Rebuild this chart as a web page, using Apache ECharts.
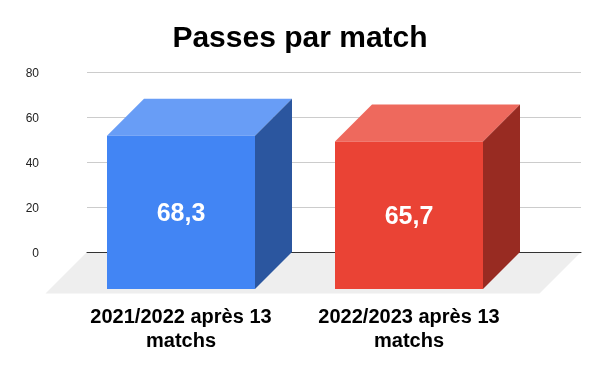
<!DOCTYPE html>
<html>
<head>
<meta charset="utf-8">
<style>
  html, body { margin: 0; padding: 0; background: #fff; }
  #chart { width: 600px; height: 371px; }
</style>
<script src="https://cdn.jsdelivr.net/npm/echarts@6/dist/echarts.min.js"></script>
</head>
<body>
<div id="chart"></div>
<script>
var categories = ['2021/2022 après 13 matchs', '2022/2023 après 13 matchs'];
var passes = [68.3, 65.7];
var frontColors = ['#4285f4', '#ea4335'];
var topColors = ['#689df6', '#ee695d'];
var sideColors = ['#2b569f', '#982b22'];

var font = '"Liberation Sans", Arial, sans-serif';
var barWidth = 148;
var barDepth = 37;
var floorDepth = 41.5;

function poly(points, color) {
  return { type: 'polygon', shape: { points: points }, style: { fill: color } };
}

// bars are placed on the front plane in x, but their height is read on the back wall
function renderBar(params, api) {
  var i = api.value(0);
  var top = api.coord([i, api.value(1)]);
  var base = api.coord([i, 0]);
  var l = top[0] - barWidth / 2;
  var r = top[0] + barWidth / 2;
  var d = barDepth;
  return {
    type: 'group',
    children: [
      poly([[l, top[1] + d], [r, top[1] + d], [r + d, top[1]], [l + d, top[1]]], topColors[i]),
      poly([[r, top[1] + d], [r + d, top[1]], [r + d, base[1]], [r, base[1] + d]], sideColors[i]),
      poly([[l, top[1] + d], [r, top[1] + d], [r, base[1] + d], [l, base[1] + d]], frontColors[i]),
      {
        type: 'text',
        style: {
          x: top[0],
          y: (top[1] + base[1]) / 2 + d + 2,
          text: String(api.value(1)).replace('.', ','),
          align: 'center',
          verticalAlign: 'middle',
          fill: '#fff',
          font: 'bold 25px ' + font
        }
      }
    ]
  };
}

function renderFloor(params, api) {
  var a = api.coord([0, 0]);
  var b = api.coord([1, 0]);
  return poly([
    [a[0], a[1]],
    [b[0], b[1]],
    [b[0] - floorDepth, b[1] + floorDepth],
    [a[0] - floorDepth, a[1] + floorDepth]
  ], '#eeeeee');
}

var chart = echarts.init(document.getElementById('chart'));

chart.setOption({
  animation: false,
  backgroundColor: '#fff',
  title: {
    text: 'Passes par match',
    left: 295,
    top: 19,
    textAlign: 'center',
    textStyle: { fontFamily: font, fontWeight: 'bold', fontSize: 30, color: '#000' }
  },
  grid: [
    { left: 87, width: 494, top: 72, height: 180 },
    { left: 67, width: 456, top: 72.5, height: 179.5 }
  ],
  xAxis: [
    {
      gridIndex: 0,
      type: 'value',
      min: 0,
      max: 1,
      z: 1,
      axisLine: { show: true, lineStyle: { color: '#333', width: 1 } },
      axisTick: { show: false },
      axisLabel: { show: false },
      splitLine: { show: false }
    },
    {
      gridIndex: 1,
      type: 'category',
      data: categories,
      axisLine: { show: false },
      axisTick: { show: false },
      axisLabel: {
        interval: 0,
        margin: 53,
        lineHeight: 24,
        fontFamily: font,
        fontWeight: 'bold',
        fontSize: 20,
        color: '#000',
        formatter: function (v) { return v.replace(' matchs', '\nmatchs'); }
      }
    }
  ],
  yAxis: [
    {
      gridIndex: 0,
      type: 'value',
      min: 0,
      max: 80,
      interval: 20,
      axisLine: { show: false },
      axisTick: { show: false },
      axisLabel: { margin: 48, lineHeight: 17, verticalAlign: 'top', padding: [-7, 0, 0, 0], fontFamily: font, fontSize: 12, color: '#222' },
      splitLine: { lineStyle: { color: '#cccccc', width: 1 } }
    },
    {
      gridIndex: 1,
      type: 'value',
      min: 0,
      max: 80,
      interval: 20,
      show: false
    }
  ],
  series: [
    {
      type: 'custom',
      name: 'sol',
      xAxisIndex: 0,
      yAxisIndex: 0,
      z: 0,
      silent: true,
      renderItem: renderFloor,
      data: [[0, 0]]
    },
    {
      type: 'custom',
      name: 'Passes par match',
      xAxisIndex: 1,
      yAxisIndex: 1,
      z: 3,
      silent: true,
      renderItem: renderBar,
      encode: { x: 0, y: 1 },
      data: passes.map(function (v, i) { return [i, v]; })
    }
  ]
});
</script>
</body>
</html>
